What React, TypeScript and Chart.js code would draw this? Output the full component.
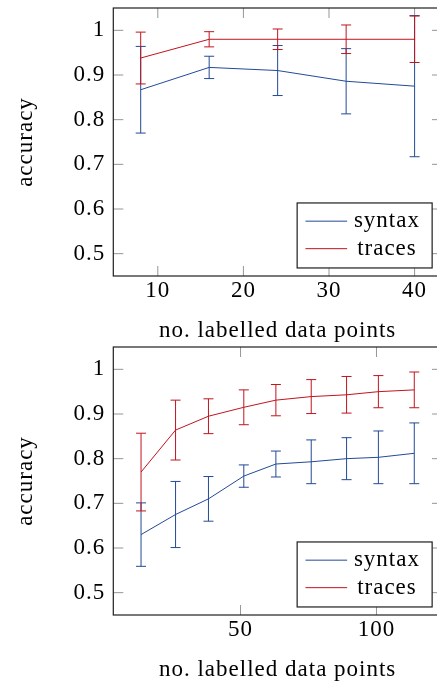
import React, { useEffect, useRef } from "react";
import { Chart, registerables } from "chart.js";

Chart.register(...registerables);

// ---------- data ----------
const yTicks = [0.5, 0.6, 0.7, 0.8, 0.9, 1];
const yTickLabels = ["0.5", "0.6", "0.7", "0.8", "0.9", "1"];
const seriesNames = ["syntax", "traces"];

// top panel
const topX = [8, 16, 24, 32, 40];
const topSyntax = [0.867, 0.917, 0.91, 0.886, 0.875];
const topSyntaxErr = [0.097, 0.025, 0.056, 0.073, 0.158];
const topTraces = [0.938, 0.98, 0.98, 0.98, 0.98];
const topTracesErr = [0.058, 0.017, 0.023, 0.032, 0.052];
const topXTicks = [10, 20, 30, 40];

// bottom panel
const botX = [13.4, 26.1, 38.2, 51.2, 63.0, 76.0, 89.0, 100.7, 113.9];
const botSyntax = [0.63, 0.675, 0.71, 0.761, 0.788, 0.793, 0.8, 0.803, 0.812];
const botSyntaxErr = [0.071, 0.074, 0.05, 0.025, 0.029, 0.049, 0.047, 0.059, 0.068];
const botTraces = [0.77, 0.864, 0.895, 0.915, 0.931, 0.939, 0.943, 0.95, 0.954];
const botTracesErr = [0.087, 0.067, 0.039, 0.039, 0.035, 0.038, 0.041, 0.036, 0.04];
const botXTicks = [50, 100];

// ---------- style ----------
const FONT_FAMILY = "'Liberation Serif', 'Times New Roman', serif";
const FONT_SIZE = 23;
const LETTER_SPACING = "1px";
const BLUE = "rgb(34,74,150)";
const RED = "rgb(192,20,30)";
const TICK_COLOR = "rgb(150,150,150)";
const FRAME_COLOR = "rgb(30,30,30)";

const W = 460;
const H = 348;
const PANEL_H = 340;
const AREA_LEFT = 113.3;
const AREA_RIGHT = 442;
const AREA_TOP = 8;
const AREA_BOTTOM = 276;

const spacingPlugin = {
  id: "letterSpacing",
  beforeDraw(chart: any) {
    try {
      chart.ctx.letterSpacing = LETTER_SPACING;
    } catch (e) {
      /* ignore */
    }
  },
};

const framePlugin = {
  id: "frameTicks",
  beforeDatasetsDraw(chart: any) {
    const { ctx, chartArea } = chart;
    const { left, right, top, bottom } = chartArea;
    const xs = chart.scales.x;
    const ys = chart.scales.y;
    ctx.save();
    ctx.strokeStyle = TICK_COLOR;
    ctx.lineWidth = 1;
    ctx.beginPath();
    xs.ticks.forEach((t: any) => {
      const px = xs.getPixelForValue(t.value);
      ctx.moveTo(px, bottom);
      ctx.lineTo(px, bottom - 10);
      ctx.moveTo(px, top);
      ctx.lineTo(px, top + 10);
    });
    ys.ticks.forEach((t: any) => {
      const py = ys.getPixelForValue(t.value);
      ctx.moveTo(left, py);
      ctx.lineTo(left + 10, py);
      ctx.moveTo(right, py);
      ctx.lineTo(right - 10, py);
    });
    ctx.stroke();
    ctx.strokeStyle = FRAME_COLOR;
    ctx.lineWidth = 1.2;
    ctx.strokeRect(left, top, right - left, bottom - top);
    ctx.restore();
  },
};

const errorBarPlugin = {
  id: "errorBars",
  afterDatasetDraw(chart: any, args: any) {
    const ds = chart.data.datasets[args.index];
    const errs: number[] = ds.err;
    if (!errs) return;
    const { ctx } = chart;
    const xs = chart.scales.x;
    const ys = chart.scales.y;
    ctx.save();
    ctx.strokeStyle = ds.borderColor;
    ctx.lineWidth = 1;
    ctx.beginPath();
    ds.data.forEach((p: any, i: number) => {
      const px = xs.getPixelForValue(p.x);
      const y1 = ys.getPixelForValue(p.y + errs[i]);
      const y2 = ys.getPixelForValue(p.y - errs[i]);
      ctx.moveTo(px, y1);
      ctx.lineTo(px, y2);
      ctx.moveTo(px - 5, y1);
      ctx.lineTo(px + 5, y1);
      ctx.moveTo(px - 5, y2);
      ctx.lineTo(px + 5, y2);
    });
    ctx.stroke();
    ctx.restore();
  },
};

const legendPlugin = {
  id: "boxLegend",
  afterDraw(chart: any) {
    const { ctx, chartArea } = chart;
    const { left, right, top, bottom } = chartArea;
    const bw = 135;
    const bh = 65;
    const bx = left + 0.97 * (right - left) - bw;
    const by = bottom - 0.03 * (bottom - top) - bh;
    ctx.save();
    ctx.fillStyle = "#fff";
    ctx.fillRect(bx, by, bw, bh);
    ctx.strokeStyle = FRAME_COLOR;
    ctx.lineWidth = 1.2;
    ctx.strokeRect(bx, by, bw, bh);
    ctx.font = `${FONT_SIZE}px ${FONT_FAMILY}`;
    ctx.textAlign = "center";
    ctx.textBaseline = "alphabetic";
    const rows = [18.2, 45.7];
    chart.data.datasets.forEach((ds: any, i: number) => {
      const ry = by + rows[i];
      ctx.strokeStyle = ds.borderColor;
      ctx.lineWidth = 1;
      ctx.beginPath();
      ctx.moveTo(bx + 8.3, ry);
      ctx.lineTo(bx + 50, ry);
      ctx.stroke();
      ctx.fillStyle = "#000";
      ctx.fillText(ds.label, bx + 89.8, ry + 6);
    });
    ctx.restore();
  },
};

function makeConfig(
  xs: number[],
  syn: number[],
  synErr: number[],
  tr: number[],
  trErr: number[],
  xTicks: number[],
  xmin: number,
  xmax: number
): any {
  const font = { family: FONT_FAMILY, size: FONT_SIZE };
  return {
    type: "line",
    data: {
      datasets: [
        {
          label: seriesNames[0],
          data: xs.map((x, i) => ({ x, y: syn[i] })),
          err: synErr,
          borderColor: BLUE,
          borderWidth: 1,
          pointRadius: 0,
          fill: false,
          tension: 0,
          order: 1,
        },
        {
          label: seriesNames[1],
          data: xs.map((x, i) => ({ x, y: tr[i] })),
          err: trErr,
          borderColor: RED,
          borderWidth: 1,
          pointRadius: 0,
          fill: false,
          tension: 0,
          order: 0,
        },
      ],
    },
    options: {
      animation: false,
      responsive: false,
      devicePixelRatio: 1,
      events: [],
      layout: {
        padding: { left: 0, right: W - AREA_RIGHT, top: AREA_TOP, bottom: H - PANEL_H },
      },
      plugins: { legend: { display: false }, tooltip: { enabled: false } },
      scales: {
        x: {
          type: "linear",
          min: xmin,
          max: xmax,
          afterBuildTicks: (ax: any) => {
            ax.ticks = xTicks.map((v) => ({ value: v }));
          },
          afterFit: (s: any) => {
            s.height = PANEL_H - AREA_BOTTOM;
            s.paddingLeft = 0;
            s.paddingRight = 0;
            s.paddingTop = 0;
            s.paddingBottom = 0;
          },
          grid: { display: false, drawTicks: false },
          border: { display: false },
          ticks: {
            font,
            color: "#000",
            padding: 1,
            maxRotation: 0,
            autoSkip: false,
            callback: (v: number) => String(v),
          },
          title: {
            display: true,
            text: "no. labelled data points",
            font,
            color: "#000",
            padding: { top: 0, bottom: -5 },
          },
        },
        y: {
          type: "linear",
          min: 0.45,
          max: 1.05,
          afterBuildTicks: (ax: any) => {
            ax.ticks = yTicks.map((v) => ({ value: v }));
          },
          afterFit: (s: any) => {
            s.width = AREA_LEFT;
            s.paddingLeft = 0;
            s.paddingRight = 0;
            s.paddingTop = 0;
            s.paddingBottom = 0;
          },
          grid: { display: false, drawTicks: false },
          border: { display: false },
          ticks: {
            font,
            color: "#000",
            padding: 8,
            autoSkip: false,
            callback: (_v: number, i: number) => yTickLabels[i],
          },
          title: {
            display: true,
            text: "accuracy",
            font,
            color: "#000",
            padding: { top: 12, bottom: 0 },
          },
        },
      },
    },
    plugins: [spacingPlugin, framePlugin, errorBarPlugin, legendPlugin],
  };
}

function Panel(props: { config: any; top: number }) {
  const ref = useRef<HTMLCanvasElement | null>(null);
  useEffect(() => {
    if (!ref.current) return;
    const chart = new Chart(ref.current, props.config);
    return () => chart.destroy();
  }, []);
  return (
    <canvas
      ref={ref}
      width={W}
      height={H}
      style={{ position: "absolute", left: 0, top: props.top, display: "block" }}
    />
  );
}

export default function App() {
  const topConfig = makeConfig(topX, topSyntax, topSyntaxErr, topTraces, topTracesErr, topXTicks, 4.8, 43.2);
  const botConfig = makeConfig(botX, botSyntax, botSyntaxErr, botTraces, botTracesErr, botXTicks, 3.2, 124.1);
  return (
    <div
      style={{
        position: "absolute",
        left: 0,
        top: 0,
        width: 437,
        height: 681,
        overflow: "hidden",
        background: "#fff",
      }}
    >
      <Panel config={topConfig} top={0} />
      <Panel config={botConfig} top={339.3} />
    </div>
  );
}
